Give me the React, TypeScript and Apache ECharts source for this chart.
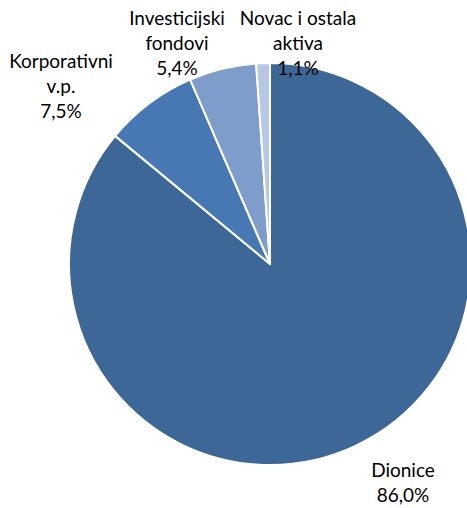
import React, { useEffect, useRef } from "react";
import * as echarts from "echarts";

const categories = ["Dionice", "Korporativni\nv.p.", "Investicijski\nfondovi", "Novac i ostala\naktiva"];
const values = [86.0, 7.5, 5.4, 1.1];
const colors = ["#3D6796", "#4878B3", "#7E9DCB", "#B7C7E3"];
const labelPos = [
  [403, 482],
  [61, 85],
  [177, 42],
  [298, 42],
];

export default function App() {
  const ref = useRef<HTMLDivElement>(null);
  useEffect(() => {
    document.body.style.margin = "0";
    const chart = echarts.init(ref.current!, null, { renderer: "svg" });
    chart.setOption({
      animation: false,
      backgroundColor: "#fff",
      series: [
        {
          type: "pie",
          center: [270, 264],
          radius: 201,
          startAngle: 90,
          clockwise: true,
          itemStyle: { borderColor: "#fff", borderWidth: 2 },
          label: {
            show: true,
            position: "outside",
            color: "#000",
            fontFamily: "Lato",
            fontSize: 19,
            lineHeight: 25,
            align: "center",
            overflow: "none",
            formatter: (p: any) => `${p.name}\n${p.value.toFixed(1).replace(".", ",")}%`,
          },
          labelLine: { show: false },
          labelLayout: (params: any) => {
            const pos = labelPos[params.dataIndex];
            return { x: pos[0], y: pos[1], align: "center", verticalAlign: "middle", hideOverlap: false };
          },
          data: categories.map((c, i) => ({ name: c, value: values[i], itemStyle: { color: colors[i] } })),
        },
      ],
    });
    return () => chart.dispose();
  }, []);
  return <div ref={ref} style={{ position: "fixed", left: 0, top: 0, width: 467, height: 508 }} />;
}
